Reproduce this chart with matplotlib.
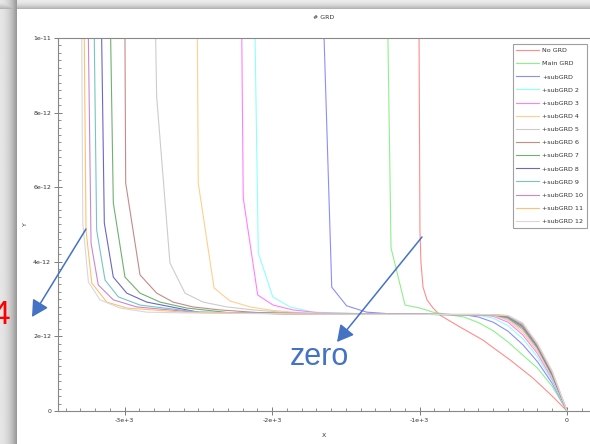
import numpy as np
import matplotlib
matplotlib.use("Agg")
import matplotlib.pyplot as plt
from matplotlib.patches import FancyArrowPatch
from matplotlib.ticker import FixedLocator, MultipleLocator, FixedFormatter

# current values are in units of 1e-12
no_grd_v = [0, -95, -230, -386, -522, -569, -725, -861, -908, -949, -976, -990, -997, -1003, -1010]
no_grd_i = [0, 0.38, 0.88, 1.37, 1.76, 1.90, 2.25, 2.57, 2.76, 2.98, 3.32, 3.97, 4.85, 10.0, 12.0]

main_v = [0, -100, -200, -300, -400, -500, -600, -700, -800, -908, -997, -1098, -1193, -1214, -1220]
main_i = [0, 0.66, 1.15, 1.50, 1.85, 2.15, 2.37, 2.52, 2.58, 2.65, 2.76, 2.84, 4.37, 10.0, 12.0]

sub1_v = [0, -100, -200, -300, -400, -500, -600, -700, -900, -1180, -1358, -1494, -1595, -1647, -1655]
sub1_i = [0, 0.74, 1.32, 1.78, 2.14, 2.38, 2.52, 2.58, 2.59, 2.60, 2.65, 2.82, 3.32, 10.0, 12.0]

sub2_v = [0, -100, -200, -300, -400, -500, -600, -800, -1200, -1722, -1878, -1995, -2093, -2115, -2120]
sub2_i = [0, 0.80, 1.45, 1.94, 2.29, 2.49, 2.57, 2.59, 2.59, 2.65, 2.79, 3.06, 4.24, 10.0, 12.0]

sub3_v = [0, -100, -200, -300, -400, -500, -600, -900, -1300, -1675, -1858, -1993, -2097, -2195, -2205, -2210]
sub3_i = [0, 0.85, 1.54, 2.04, 2.38, 2.54, 2.58, 2.59, 2.60, 2.63, 2.71, 2.84, 3.11, 5.71, 10.0, 12.0]

sub4_v = [0, -100, -200, -300, -400, -500, -600, -1000, -1500, -1800, -2000, -2149, -2285, -2393, -2500, -2506, -2510]
sub4_i = [0, 0.89, 1.60, 2.11, 2.43, 2.56, 2.59, 2.59, 2.60, 2.63, 2.70, 2.79, 2.95, 3.30, 6.11, 10.0, 12.0]

sub5_v = [0, -100, -200, -300, -400, -500, -600, -1000, -1500, -1900, -2129, -2305, -2468, -2590, -2692, -2782, -2789, -2792]
sub5_i = [0, 0.92, 1.65, 2.17, 2.46, 2.57, 2.59, 2.59, 2.60, 2.64, 2.71, 2.79, 2.92, 3.16, 3.97, 8.42, 10.0, 12.0]

sub6_v = [0, -100, -200, -300, -400, -500, -1000, -1600, -2100, -2353, -2536, -2671, -2782, -2895, -2992, -2997, -3000]
sub6_i = [0, 0.95, 1.69, 2.21, 2.49, 2.58, 2.59, 2.60, 2.64, 2.71, 2.79, 2.92, 3.16, 3.65, 6.11, 10.0, 12.0]

sub7_v = [0, -100, -200, -300, -400, -500, -1000, -1700, -2300, -2578, -2759, -2895, -2997, -3076, -3094, -3097]
sub7_i = [0, 0.97, 1.72, 2.25, 2.51, 2.58, 2.59, 2.60, 2.64, 2.76, 2.92, 3.16, 3.59, 5.58, 10.0, 12.0]

sub8_v = [0, -100, -200, -300, -400, -500, -1000, -1800, -2500, -2850, -2985, -3076, -3137, -3155, -3158]
sub8_i = [0, 0.99, 1.74, 2.28, 2.53, 2.58, 2.59, 2.60, 2.65, 2.92, 3.16, 3.59, 5.04, 10.0, 12.0]

sub9_v = [0, -100, -200, -300, -400, -500, -1000, -1800, -2500, -2895, -3042, -3132, -3189, -3205, -3208]
sub9_i = [0, 1.01, 1.76, 2.30, 2.54, 2.58, 2.59, 2.60, 2.65, 2.84, 3.06, 3.51, 4.85, 10.0, 12.0]

sub10_v = [0, -100, -200, -300, -400, -500, -1000, -1800, -2500, -2917, -3076, -3178, -3227, -3245, -3248]
sub10_i = [0, 1.03, 1.77, 2.32, 2.55, 2.58, 2.59, 2.60, 2.64, 2.79, 2.98, 3.38, 4.50, 10.0, 12.0]

sub11_v = [0, -100, -200, -300, -400, -500, -1000, -1800, -2600, -2985, -3120, -3222, -3261, -3273, -3276]
sub11_i = [0, 1.05, 1.79, 2.34, 2.56, 2.58, 2.59, 2.60, 2.65, 2.76, 2.92, 3.43, 4.85, 10.0, 12.0]

sub12_v = [0, -100, -200, -300, -400, -500, -1000, -1800, -2600, -2850, -3031, -3166, -3245, -3283, -3290, -3293]
sub12_i = [0, 1.07, 1.81, 2.36, 2.56, 2.58, 2.59, 2.60, 2.63, 2.65, 2.76, 2.98, 3.46, 5.04, 10.0, 12.0]

labels = ["No GRD", "Main GRD", "+subGRD", "+subGRD 2", "+subGRD 3", "+subGRD 4",
          "+subGRD 5", "+subGRD 6", "+subGRD 7", "+subGRD 8", "+subGRD 9",
          "+subGRD 10", "+subGRD 11", "+subGRD 12"]
colors = ["#ff8c8c", "#8cf08c", "#8c8cff", "#8cffff", "#ff80ff", "#ffd08c",
          "#cccccc", "#c48a8a", "#70b070", "#6868c8", "#78c4c4", "#c888d0",
          "#ffc070", "#d8d8d8"]
volts = [no_grd_v, main_v, sub1_v, sub2_v, sub3_v, sub4_v, sub5_v, sub6_v,
         sub7_v, sub8_v, sub9_v, sub10_v, sub11_v, sub12_v]
currents = [no_grd_i, main_i, sub1_i, sub2_i, sub3_i, sub4_i, sub5_i, sub6_i,
            sub7_i, sub8_i, sub9_i, sub10_i, sub11_i, sub12_i]

y_ticks = [0, 2e-12, 4e-12, 6e-12, 8e-12, 1e-11]
y_tick_labels = ["0", "2e-12", "4e-12", "6e-12", "8e-12", "1e-11"]
x_ticks = [-3000, -2000, -1000, 0]
x_tick_labels = ["-3e+3", "-2e+3", "-1e+3", "0"]

W, H = 590, 444
fig = plt.figure(figsize=(W / 100, H / 100), dpi=100)

# screenshot shadow around the window
bg = fig.add_axes([0, 0, 1, 1], zorder=-10)
img = np.ones((H, W))
lx = np.arange(17)
img[:, :17] = (0.90 - 0.30 * (lx / 16) ** 2)[None, :]
ty = np.arange(10)
img[:10, :] = np.minimum(img[:10, :], (0.92 - 0.22 * (ty / 9) ** 2)[:, None])
bg.imshow(img, cmap="gray", vmin=0, vmax=1, aspect="auto", extent=[0, W, 0, H], origin="upper")
bg.set_xlim(0, W)
bg.set_ylim(0, H)
bg.axis("off")

ax = fig.add_axes([58 / W, 1 - 411 / H, 1 - 58 / W, (411 - 38) / H])
for v, i, c, lab in zip(volts, currents, colors, labels):
    ax.plot(v, np.array(i) * 1e-12, color=c, lw=0.8, label=lab)

ax.set_xlim(-3451, 156)
ax.set_ylim(0, 1e-11)
ax.xaxis.set_major_locator(FixedLocator(x_ticks))
ax.xaxis.set_major_formatter(FixedFormatter(x_tick_labels))
ax.xaxis.set_minor_locator(MultipleLocator(100))
ax.yaxis.set_major_locator(FixedLocator(y_ticks))
ax.yaxis.set_major_formatter(FixedFormatter(y_tick_labels))
ax.yaxis.set_minor_locator(MultipleLocator(2e-13))
ax.tick_params(which="major", direction="inout", length=6, width=0.6, color="#666666",
               labelsize=4.5, pad=2, labelcolor="#333333")
ax.tick_params(which="minor", direction="in", length=2.5, width=0.5, color="#666666")
ax.tick_params(top=False, right=False, which="both")
for s in ["left", "bottom", "top"]:
    ax.spines[s].set_color("#888888")
    ax.spines[s].set_linewidth(0.8)
ax.spines["right"].set_visible(False)

ax.set_title("# GRD", fontsize=4.5, pad=14, color="#333333")
ax.set_xlabel("X", fontsize=4.5, labelpad=7, color="#333333")
ax.set_ylabel("Y", fontsize=4.5, labelpad=4, color="#333333")

leg = fig.legend(loc="upper right", bbox_to_anchor=(587 / W, 1 - 44 / H), fontsize=4.6,
                 frameon=True, fancybox=False, edgecolor="#888888", handlelength=3.5,
                 labelspacing=1.2, borderpad=0.6, handletextpad=0.5, borderaxespad=0)
leg.get_frame().set_linewidth(0.8)
for t in leg.get_texts():
    t.set_color("#333333")

# slide annotations
blue = "#4472c4"
fig.text(10 / W, 1 - 315 / H, "4", color="red", fontsize=24, ha="right", va="center",
         family="Liberation Sans")
fig.text(290 / W, 1 - 365 / H, "zero", color=blue, fontsize=22, ha="left", va="baseline",
         family="Liberation Sans")
arrow = dict(arrowstyle="-|>,head_length=0.5,head_width=0.27", color=blue, lw=1.1,
             mutation_scale=20, shrinkA=0, shrinkB=0)
fig.add_artist(FancyArrowPatch((86 / W, 1 - 229 / H), (32 / W, 1 - 317 / H),
                               transform=fig.transFigure, **arrow))
fig.add_artist(FancyArrowPatch((422 / W, 1 - 237 / H), (337 / W, 1 - 342 / H),
                               transform=fig.transFigure, **arrow))

fig.savefig("out.png", dpi=100)
